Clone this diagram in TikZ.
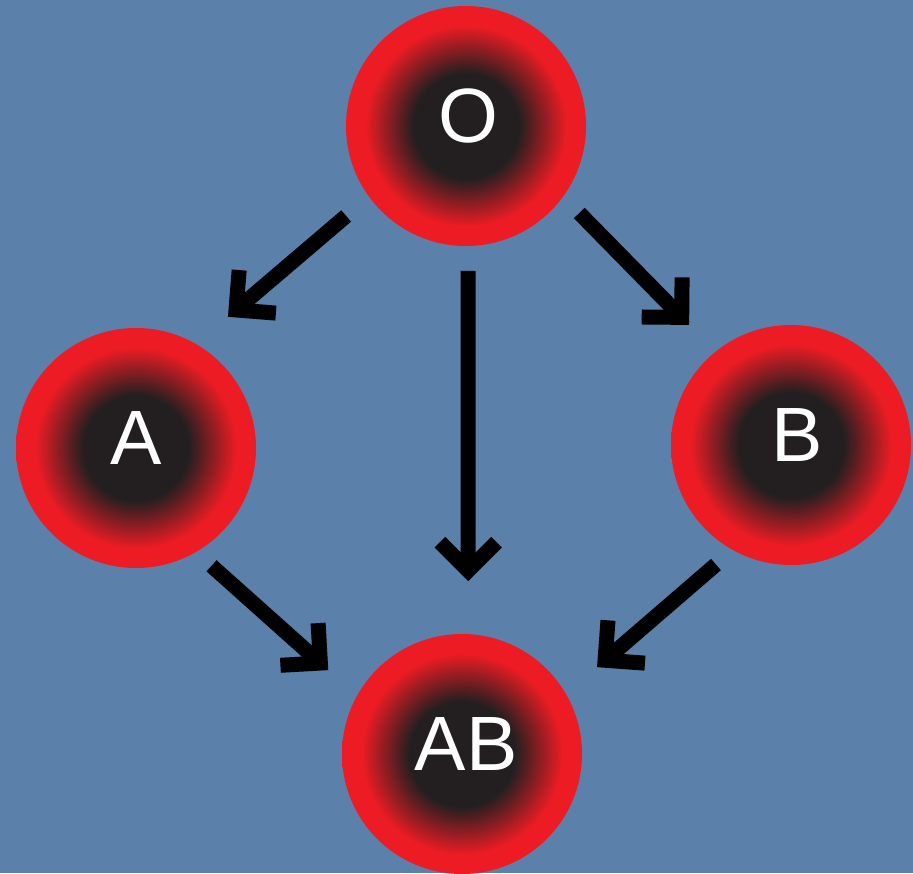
\documentclass[tikz,border=0pt]{standalone}
\usepackage{fontspec}
\setmainfont{Liberation Sans}
\usetikzlibrary{arrows.meta}
\definecolor{bgblue}{HTML}{5B80A9}
\definecolor{cellred}{HTML}{ED1C24}
\definecolor{cellblack}{HTML}{231F20}
\pgfdeclareradialshading{cellshade}{\pgfpoint{0bp}{0bp}}{color(0bp)=(cellblack); color(11bp)=(cellblack); color(21bp)=(cellred); color(25bp)=(cellred); color(50bp)=(cellred)}
\tikzset{
  cell/.style={circle, minimum size=240pt, inner sep=0pt, outer sep=0pt, shading=cellshade},
  celltext/.style={text=white, font=\fontsize{77}{77}\selectfont, yshift=10pt},
  arr/.style={line width=15pt, -{Straight Barb[sharp, angle=90:40pt]}}
}
\begin{document}
\begin{tikzpicture}[x=1pt,y=-1pt]
\fill[bgblue] (0,0) rectangle (913,873);
\useasboundingbox (0,0) rectangle (913,873);
\node[cell, label={[celltext, xshift=2pt]center:O}] (O) at (466,126) {};
\node[cell, label={[celltext]center:A}] (A) at (136,448) {};
\node[cell, label={[celltext, xshift=6pt]center:B}] (B) at (791,445) {};
\node[cell, label={[celltext, xshift=4pt]center:AB}] (AB) at (462,754) {};
\draw[arr, shorten <=29.9pt, shorten >=42pt] (O.216.8) -- (A.60);
\draw[arr, shorten <=25pt, shorten >=53.1pt] (O.271.07) -- (AB.87.4);
\draw[arr, shorten <=23.1pt, shorten >=37.6pt] (O.324.7) -- (B.129.25);
\draw[arr, shorten <=20.8pt, shorten >=38.6pt] (A.300.95) -- (AB.151.7);
\draw[arr, shorten <=22.3pt, shorten >=41.1pt] (B.241.6) -- (AB.30.2);
\end{tikzpicture}
\end{document}
